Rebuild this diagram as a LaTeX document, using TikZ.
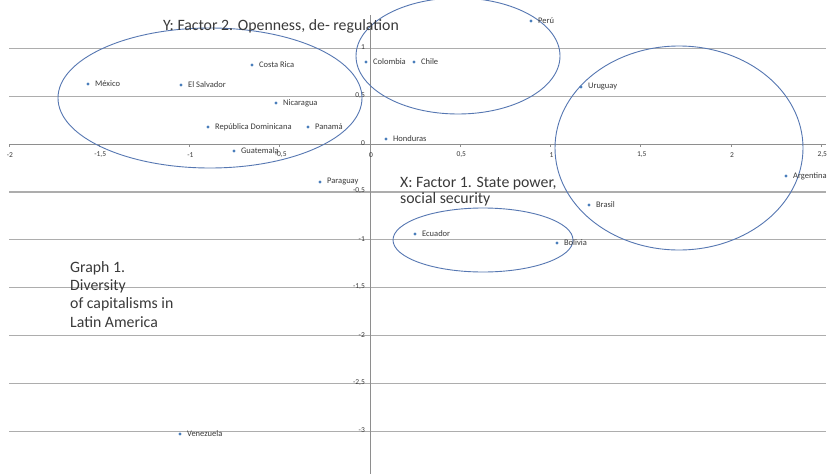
\documentclass[tikz,border=0pt]{standalone}
\usepackage{fontspec}
\setmainfont{Carlito}
\usetikzlibrary{shapes.geometric}
\definecolor{gridc}{HTML}{ADADAD}
\definecolor{axc}{HTML}{8E8E8E}
\definecolor{ptc}{HTML}{4A7EBB}
\definecolor{elc}{HTML}{5677B2}
\definecolor{txc}{HTML}{3A3A3A}
\begin{document}
\begin{tikzpicture}[x=1pt,y=-1pt,
  pt/.style={diamond, fill=ptc, inner sep=0pt, minimum size=3.4pt},
  lbl/.style={font=\fontsize{8.5}{9}\selectfont, text=txc, anchor=west, inner sep=0pt},
  ticklbl/.style={font=\fontsize{7.5}{8}\selectfont, text=txc, inner sep=0pt},
  gridline/.style={draw=gridc, line width=1.2pt},
  axisline/.style={draw=axc, line width=1pt},
  ell/.style={draw=elc, line width=0.9pt},
  big/.style={font=\fontsize{15.8}{18}\selectfont, text=txc, anchor=base west, inner sep=0pt}]
\useasboundingbox (0,0) rectangle (832,474);
\clip (0,0) rectangle (832,474);
\fill[white] (0,0) rectangle (832,474);
% horizontal gridlines
\foreach \v in {1,0.5,-0.5,-1,-1.5,-2,-2.5,-3}
  \draw[gridline] (9,{144-95.8*\v}) -- (826,{144-95.8*\v});
% axes
\draw[axisline] (9,144) -- (826,144);
\draw[axisline] (370,15) -- (370,474);
% x ticks
\foreach \v in {-2,-1.5,-1,-0.5,0.5,1,1.5,2,2.5}
  \draw[axisline] ({370+180.5*\v},144) -- ({370+180.5*\v},147);
% y tick labels
\foreach \v/\t in {1/1,0.5/{0,5},0/0,-0.5/{-0,5},-1/-1,-1.5/{-1,5},-2/-2,-2.5/{-2,5},-3/-3}
  \node[ticklbl, anchor=east] at (365,{143-95.8*\v}) {\t};
% x tick labels
\foreach \v/\t in {-2/-2,-1.5/{-1,5},-1/-1,-0.5/{-0,5},0/0,0.5/{0,5},1/1,1.5/{1,5},2/2,2.5/{2,5}}
  \node[ticklbl] at ({370+180.5*\v+1},155) {\t};
% ellipses
\draw[ell] (210,98) ellipse [x radius=152, y radius=70];
\draw[ell] (458,56) ellipse [x radius=102, y radius=58];
\draw[ell] (679,148) ellipse [x radius=124, y radius=102];
\draw[ell] (483,240) ellipse [x radius=90, y radius=32];
% data points
\node[pt] (peru) at (531,21) {};
\node[pt] (colombia) at (366,62) {};
\node[pt] (chile) at (414,62) {};
\node[pt] (costarica) at (252,65) {};
\node[pt] (mexico) at (88,84) {};
\node[pt] (elsalvador) at (181,85) {};
\node[pt] (nicaragua) at (276,103) {};
\node[pt] (repdom) at (208,127) {};
\node[pt] (panama) at (308,127) {};
\node[pt] (honduras) at (386,139) {};
\node[pt] (guatemala) at (234,151) {};
\node[pt] (paraguay) at (320,182) {};
\node[pt] (uruguay) at (581,87) {};
\node[pt] (argentina) at (786,176) {};
\node[pt] (brasil) at (589,205) {};
\node[pt] (ecuador) at (415,234) {};
\node[pt] (bolivia) at (557,243) {};
\node[pt] (venezuela) at (180,434) {};
% point labels
\node[lbl] (peruL) at ([xshift=5pt]peru.east) {Perú};
\node[lbl] (colombiaL) at ([xshift=5pt]colombia.east) {Colombia};
\node[lbl] (chileL) at ([xshift=5pt]chile.east) {Chile};
\node[lbl] (costaricaL) at ([xshift=5pt]costarica.east) {Costa Rica};
\node[lbl] (mexicoL) at ([xshift=5pt]mexico.east) {México};
\node[lbl] (elsalvadorL) at ([xshift=5pt]elsalvador.east) {El Salvador};
\node[lbl] (nicaraguaL) at ([xshift=5pt]nicaragua.east) {Nicaragua};
\node[lbl] (repdomL) at ([xshift=5pt]repdom.east) {República Dominicana};
\node[lbl] (panamaL) at ([xshift=5pt]panama.east) {Panamá};
\node[lbl] (hondurasL) at ([xshift=5pt]honduras.east) {Honduras};
\node[lbl] (guatemalaL) at ([xshift=5pt]guatemala.east) {Guatemala};
\node[lbl] (paraguayL) at ([xshift=5pt]paraguay.east) {Paraguay};
\node[lbl] (uruguayL) at ([xshift=5pt]uruguay.east) {Uruguay};
\node[lbl] (argentinaL) at ([xshift=5pt]argentina.east) {Argentina};
\node[lbl] (brasilL) at ([xshift=5pt]brasil.east) {Brasil};
\node[lbl] (ecuadorL) at ([xshift=5pt]ecuador.east) {Ecuador};
\node[lbl] (boliviaL) at ([xshift=5pt]bolivia.east) {Bolivia};
\node[lbl] (venezuelaL) at ([xshift=5pt]venezuela.east) {Venezuela};
% titles
\node[big] (ytitle) at (163,30) {Y: Factor 2. Openness, de- regulation};
\node[big] (xtitle1) at (400,187) {X: Factor 1. State power,};
\node[big] (xtitle2) at (400,203) {social security};
\node[big] (g1) at (70,272) {Graph 1.};
\node[big] (g2) at (70,290) {Diversity};
\node[big] (g3) at (70,308.5) {of capitalisms in};
\node[big] (g4) at (70,327) {Latin America};
\end{tikzpicture}
\end{document}
